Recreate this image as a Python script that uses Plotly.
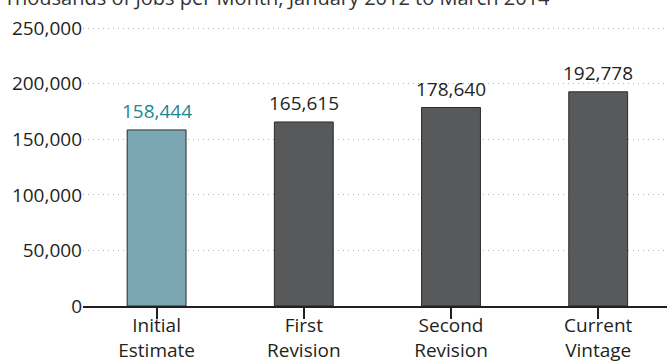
import plotly.graph_objects as go

categories = ["Initial<br>Estimate", "First<br>Revision", "Second<br>Revision", "Current<br>Vintage"]
values = [158444, 165615, 178640, 192778]
bar_colors = ["#7ba7b3", "#58595b", "#58595b", "#58595b"]
label_colors = ["#1f868c", "#231f20", "#231f20", "#231f20"]
y_ticks = [0, 50000, 100000, 150000, 200000, 250000]
y_tick_labels = ["0", "50,000", "100,000", "150,000", "200,000", "250,000"]
title_text = "Thousands of Jobs per Month, January 2012 to March 2014"

FONT = "Open Sans"
TXT = "#231f20"

fig = go.Figure()
fig.add_trace(go.Bar(
    x=list(range(len(categories))),
    y=values,
    width=0.4,
    marker=dict(color=bar_colors, line=dict(color="#2b2b2b", width=1)),
    hoverinfo="skip",
))

for i, (v, c) in enumerate(zip(values, label_colors)):
    fig.add_annotation(
        x=i, y=v, text=f"{v:,}", showarrow=False,
        xref="x", yref="y", yanchor="bottom", yshift=4,
        font=dict(family=FONT, size=19, color=c),
    )

fig.add_annotation(
    x=-0.139, y=1.045, xref="paper", yref="paper",
    xanchor="left", yanchor="bottom", showarrow=False,
    text=title_text, font=dict(family=FONT, size=20, color="#333333"),
)

fig.update_layout(
    width=667, height=362,
    margin=dict(l=83, r=0, t=26, b=56, autoexpand=False),
    paper_bgcolor="white", plot_bgcolor="white",
    showlegend=False,
    font=dict(family=FONT, size=19, color=TXT),
    bargap=0.6,
)
fig.update_xaxes(
    automargin=False,
    tickmode="array",
    tickvals=list(range(len(categories))),
    ticktext=categories,
    range=[-0.5, -0.5 + 584 / 147.2],
    tickson="boundaries",
    ticks="outside", ticklen=11, tickwidth=1.5, tickcolor=TXT,
    ticklabelstandoff=-10,
    showline=True, linecolor=TXT, linewidth=2,
    showgrid=False, zeroline=False,
    tickfont=dict(family=FONT, size=19, color=TXT),
)
fig.update_yaxes(
    automargin=False,
    range=[0, 252000],
    tickmode="array", tickvals=y_ticks, ticktext=y_tick_labels,
    showgrid=True, gridcolor="#b0b0b0", gridwidth=1, griddash="1px,4px",
    zeroline=False, showline=False, ticks="",
    tickfont=dict(family=FONT, size=19, color=TXT),
)

fig.write_html("out.html")
